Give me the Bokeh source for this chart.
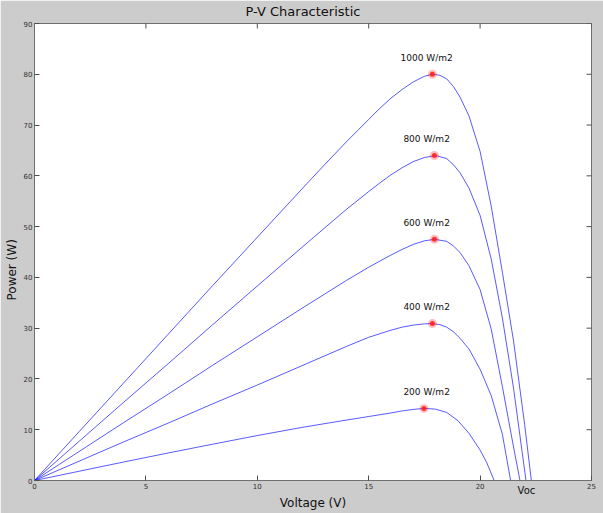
from bokeh.plotting import figure
from bokeh.models import (Range1d, LinearAxis, FixedTicker, ColumnDataSource, Title,
                          CustomJSTickFormatter)
from bokeh.embed import file_html
from bokeh.resources import INLINE
from bokeh.core.properties import value

# ---- data ----
v_1000 = [0, 2, 4, 6, 8, 10, 12, 13, 14, 14.5, 15, 15.5, 16, 16.5, 17, 17.5, 17.86, 18.2, 18.5, 18.8, 19.1, 19.5, 20, 20.5, 21, 21.5, 22, 22.3, 25]
p_1000 = [0, 9.6, 19.2, 28.8, 38.4, 47.9, 57.4, 62.1, 66.7, 68.9, 71.1, 73.3, 75.3, 77.0, 78.5, 79.6, 80.0, 79.8, 79.1, 77.6, 75.5, 71.8, 64.8, 54.0, 41.0, 27.5, 11.0, 0, 0]

v_800 = [0, 2, 4, 6, 8, 10, 12, 14, 15, 15.5, 16, 16.5, 17, 17.5, 18.0, 18.5, 18.8, 19.1, 19.5, 20, 20.5, 21, 21.5, 22.06, 25]
p_800 = [0, 7.7, 15.4, 23.0, 30.7, 38.3, 45.9, 53.4, 56.9, 58.6, 60.2, 61.6, 62.8, 63.6, 64.0, 63.4, 62.2, 60.6, 57.6, 52.2, 43.6, 32.0, 18.2, 0, 0]

v_600 = [0, 2, 4, 6, 8, 10, 12, 14, 15, 15.5, 16, 16.5, 17, 17.5, 17.96, 18.5, 18.8, 19.1, 19.5, 20, 20.5, 21, 21.5, 21.79, 25]
p_600 = [0, 5.7, 11.4, 17.0, 22.7, 28.3, 33.9, 39.4, 42.0, 43.2, 44.4, 45.5, 46.5, 47.2, 47.5, 47.1, 46.2, 44.9, 42.3, 37.6, 29.8, 18.5, 6.6, 0, 0]

v_400 = [0, 2, 4, 6, 8, 10, 12, 14, 15, 15.5, 16, 16.5, 17, 17.5, 17.86, 18.2, 18.5, 18.8, 19.1, 19.5, 20, 20.5, 21, 21.37, 25]
p_400 = [0, 3.8, 7.6, 11.3, 15.1, 18.8, 22.6, 26.4, 28.2, 28.9, 29.6, 30.2, 30.6, 30.85, 30.9, 30.7, 30.2, 29.3, 28.0, 25.9, 21.9, 16.7, 9.1, 0, 0]

v_200 = [0, 2, 4, 6, 8, 10, 12, 14, 15, 16, 16.5, 17, 17.5, 18, 18.5, 19, 19.5, 20, 20.3, 20.63, 25]
p_200 = [0, 1.82, 3.64, 5.42, 7.15, 8.85, 10.45, 11.9, 12.6, 13.3, 13.7, 14.0, 14.2, 14.05, 13.4, 11.8, 9.3, 6.0, 3.5, 0, 0]

irradiance_labels = ["1000 W/m2", "800 W/m2", "600 W/m2", "400 W/m2", "200 W/m2"]
mpp_v = [17.86, 17.95, 17.95, 17.86, 17.48]
mpp_p = [80.0, 64.0, 47.5, 30.9, 14.2]

x_ticks = [0, 5, 10, 15, 20, 25]
y_ticks = [0, 10, 20, 30, 40, 50, 60, 70, 80, 90]
voc_label_v = [22.08]

title_text = "P-V Characteristic"
x_label = "Voltage (V)"
y_label = "Power (W)"

FONT = "DejaVu Sans"
AX = "#707070"
TK = "#505050"

# ---- figure ----
p = figure(width=603, height=513, x_range=Range1d(0, 25), y_range=Range1d(0, 90),
           output_backend="svg", toolbar_location=None,
           min_border_left=34, min_border_right=12, min_border_top=22, min_border_bottom=33)
p.background_fill_color = "white"
p.border_fill_color = "#cccccc"
p.outline_line_color = AX
p.grid.visible = False

p.title.text = title_text
p.title.align = "left"
p.title.offset = 211
p.title.standoff = 6
p.title.vertical_align = "top"
p.title.text_font = FONT
p.title.text_font_size = "13px"
p.title.text_font_style = "normal"
p.title.text_color = "#111111"

for ax in (p.xaxis[0], p.yaxis[0]):
    ax.major_tick_in = 5
    ax.major_tick_out = 0
    ax.minor_tick_line_color = None
    ax.axis_line_color = AX
    ax.major_tick_line_color = TK
    ax.major_label_text_font = FONT
    ax.major_label_text_font_size = "7px"
    ax.major_label_text_color = "#303030"
    ax.major_label_standoff = 2
p.xaxis.ticker = FixedTicker(ticks=x_ticks)
p.yaxis.ticker = FixedTicker(ticks=y_ticks)

# second bottom axis carrying the "Voc" mark and the axis title
voc_axis = LinearAxis(ticker=FixedTicker(ticks=voc_label_v),
                      formatter=CustomJSTickFormatter(code="return 'Voc'"),
                      axis_line_color=None, major_tick_line_color=None,
                      minor_tick_line_color=None, major_tick_in=0, major_tick_out=0,
                      major_label_standoff=-7, major_label_text_font=FONT,
                      major_label_text_font_size="10px", major_label_text_color="#111111",
                      axis_label=x_label, axis_label_standoff=-3,
                      axis_label_text_font=FONT, axis_label_text_font_size="12px",
                      axis_label_text_font_style="normal", axis_label_text_color="#111111")
p.add_layout(voc_axis, "below")

# y axis title, placed along the left side
p.add_layout(Title(text=y_label, align="left", offset=180, standoff=4, text_font=FONT,
                   text_font_size="12px", text_font_style="normal", text_color="#111111"),
             "left")

# inward ticks on the top and right box edges
p.scatter(x=x_ticks, y=[90] * len(x_ticks), marker="dash", size=10, angle=1.5708,
          line_color=TK, line_width=1)
p.scatter(x=[25] * len(y_ticks), y=y_ticks, marker="dash", size=10,
          line_color=TK, line_width=1)

curves = [(v_1000, p_1000), (v_800, p_800), (v_600, p_600), (v_400, p_400), (v_200, p_200)]
for vv, pp in curves:
    src = ColumnDataSource(data=dict(v=vv, p=pp))
    p.line("v", "p", source=src, line_color="#0000ff", line_width=1, line_alpha=0.65)

mpp_src = ColumnDataSource(data=dict(v=mpp_v, p=mpp_p, lab=irradiance_labels,
                                     lv=[17.6] * len(mpp_v), lp=[pv + 3.2 for pv in mpp_p]))
p.scatter("v", "p", source=mpp_src, size=9, fill_color="#ff0000", fill_alpha=0.25, line_color=None)
p.scatter("v", "p", source=mpp_src, size=5, fill_color="#ff2020", fill_alpha=0.9, line_color=None)
p.text("lv", "lp", text="lab", source=mpp_src, text_font=value(FONT),
       text_font_size="9px", text_align="center", text_baseline="middle", text_color="#111111")

open("out.html", "w").write(file_html(p, INLINE))
